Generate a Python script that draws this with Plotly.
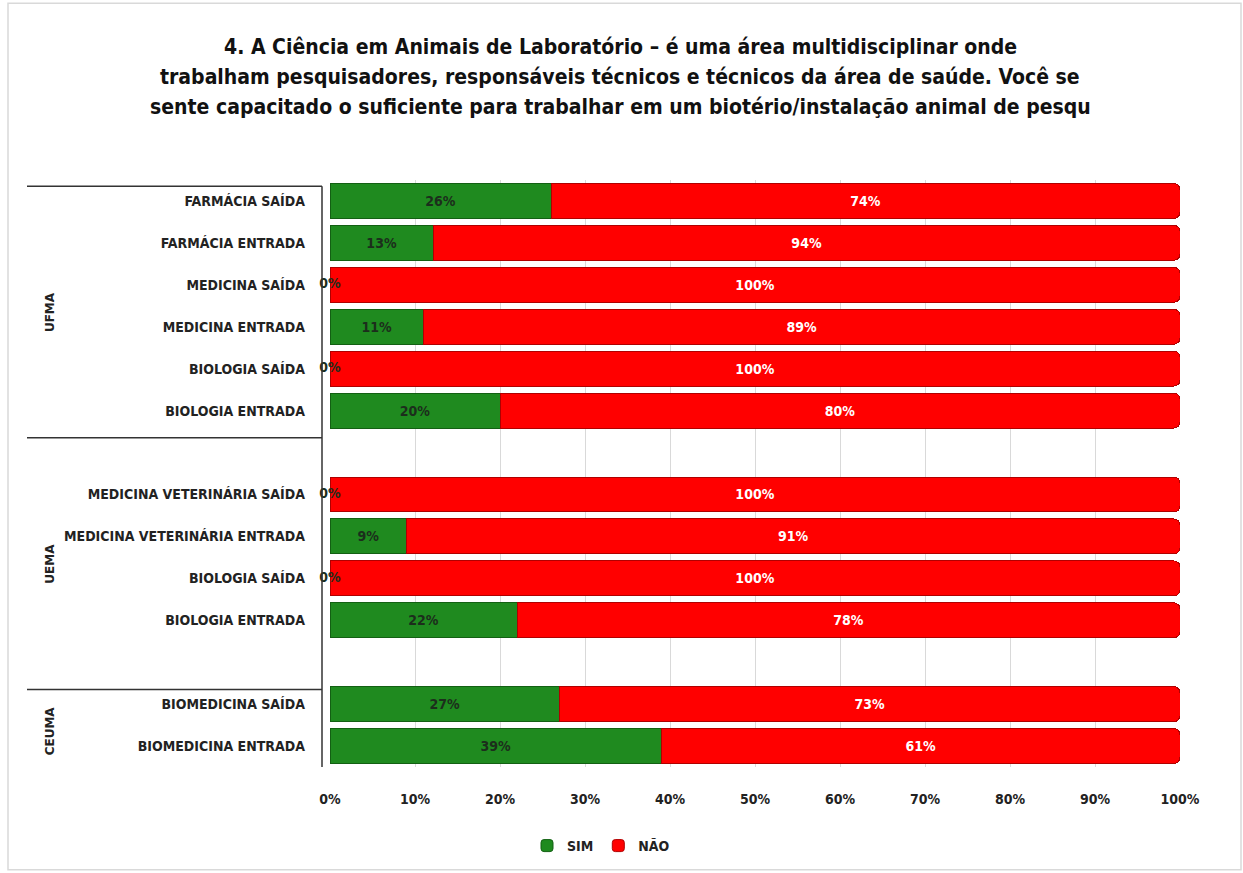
import plotly.graph_objects as go

# ---- data ----
groups = ["UFMA", "UEMA", "CEUMA"]
ufma_cats = ["FARMÁCIA SAÍDA", "FARMÁCIA ENTRADA", "MEDICINA SAÍDA",
             "MEDICINA ENTRADA", "BIOLOGIA SAÍDA", "BIOLOGIA ENTRADA"]
ufma_sim = [26, 13, 0, 11, 0, 20]
ufma_nao = [74, 94, 100, 89, 100, 80]

uema_cats = ["MEDICINA VETERINÁRIA SAÍDA", "MEDICINA VETERINÁRIA ENTRADA",
             "BIOLOGIA SAÍDA", "BIOLOGIA ENTRADA"]
uema_sim = [0, 9, 0, 22]
uema_nao = [100, 91, 100, 78]

ceuma_cats = ["BIOMEDICINA SAÍDA", "BIOMEDICINA ENTRADA"]
ceuma_sim = [27, 39]
ceuma_nao = [73, 61]

x_ticks = [0, 10, 20, 30, 40, 50, 60, 70, 80, 90, 100]
series_names = ["SIM", "NÃO"]

title_lines = ["4. A Ciência em Animais de Laboratório – é uma área multidisciplinar onde",
               "trabalham pesquisadores, responsáveis técnicos e técnicos da área de saúde. Você se",
               "sente capacitado o suficiente para trabalhar em um biotério/instalação animal de pesqu"]

# ---- build slot order (with spacer slots between groups) ----
group_data = [(groups[0], ufma_cats, ufma_sim, ufma_nao),
              (groups[1], uema_cats, uema_sim, uema_nao),
              (groups[2], ceuma_cats, ceuma_sim, ceuma_nao)]

slot_keys = []
slot_text = []
keys, sims, naos = [], [], []
group_spans = []
for gi, (g, cats, s, n) in enumerate(group_data):
    start = len(slot_keys)
    if gi == 1:
        slot_keys.append("gap_a"); slot_text.append("")
    for c, sv, nv in zip(cats, s, n):
        k = g + "|" + c
        slot_keys.append(k); slot_text.append(c)
        keys.append(k); sims.append(sv); naos.append(nv)
    if gi == 1:
        slot_keys.append("gap_b"); slot_text.append("")
    group_spans.append((g, start, len(slot_keys) - 1))

FONT = "DejaVu Sans Condensed, Liberation Sans Narrow, sans-serif"
GREEN = "#1f8a1f"
RED = "#ff0000"

fig = go.Figure()
fig.add_trace(go.Bar(
    y=keys, x=sims, name=series_names[0], orientation="h",
    marker=dict(color=GREEN, line=dict(color="#136013", width=1), cornerradius=6),
    text=[f"{v}%" if v > 0 else "" for v in sims], textposition="inside",
    insidetextanchor="middle",
    textfont=dict(color="#1c2e1c", size=14, family=FONT, weight="bold"),
    constraintext="none",
))
fig.add_trace(go.Bar(
    y=keys, x=naos, name=series_names[1], orientation="h",
    marker=dict(color=RED, line=dict(color="#b00000", width=1), cornerradius=6),
    text=[f"{v}%" for v in naos], textposition="inside", insidetextanchor="middle",
    textfont=dict(color="white", size=14, family=FONT, weight="bold"),
    constraintext="none",
))
# labels for zero-valued SIM segments (drawn at their value on the axis)
zero_keys = [k for k, v in zip(keys, sims) if v == 0]
zero_vals = [v for v in sims if v == 0]
fig.add_trace(go.Scatter(
    y=zero_keys, x=zero_vals, mode="text", text=[f"{v}%" for v in zero_vals],
    textposition="middle center", showlegend=False, hoverinfo="skip",
    textfont=dict(color="#1c2e1c", size=14, family=FONT, weight="bold"),
    cliponaxis=False,
))

shift = 0.15
shapes = []
# frame
shapes.append(dict(type="rect", xref="paper", yref="paper",
                   x0=(8 - 330) / 850, x1=(1241 - 330) / 850,
                   y0=(768 - 871) / 588, y1=(768 - 3) / 588,
                   line=dict(color="#d9d9d9", width=1.5), layer="below"))
# vertical category axis line
xl = (322 - 330) / 850
shapes.append(dict(type="line", xref="paper", yref="y",
                   x0=xl, x1=xl, y0=-0.5 + shift, y1=len(slot_keys) - 0.5 + shift,
                   line=dict(color="#333333", width=1.5)))
# group divider lines
bounds = [-0.5] + [e + 0.5 for (_, _, e) in group_spans]
for b in bounds:
    shapes.append(dict(type="line", xref="paper", yref="y",
                       x0=(27 - 330) / 850, x1=xl, y0=b + shift, y1=b + shift,
                       line=dict(color="#333333", width=1.5)))

annotations = []
for g, s, e in group_spans:
    annotations.append(dict(xref="paper", yref="y", x=(41 - 330) / 850,
                            y=(s + e) / 2 + shift, text=g, showarrow=False,
                            textangle=-90,
                            font=dict(family="DejaVu Sans", size=12, color="#222", weight="bold")))
for i, line in enumerate(title_lines):
    annotations.append(dict(xref="paper", yref="paper", x=(620 - 330) / 850,
                            y=(768 - (47 + 30 * i)) / 588, text=line, showarrow=False,
                            xanchor="center", yanchor="middle",
                            font=dict(family=FONT, size=21, color="#111111", weight="bold")))

fig.update_layout(
    width=1243, height=873,
    margin=dict(l=330, r=63, t=180, b=105),
    paper_bgcolor="white", plot_bgcolor="white",
    barmode="stack", barnorm="percent", bargap=0.17,
    font=dict(family=FONT, color="#222222"),
    xaxis=dict(range=[0, 100], tickvals=x_ticks, ticktext=[f"{t}%" for t in x_ticks],
               showgrid=True, gridcolor="#d9d9d9", gridwidth=1, zeroline=False,
               showline=False, ticks="", ticklabelstandoff=22,
               tickfont=dict(family=FONT, size=14, color="#222", weight="bold")),
    yaxis=dict(type="category", categoryorder="array", categoryarray=slot_keys,
               tickmode="array", tickvals=slot_keys, ticktext=slot_text,
               range=[len(slot_keys) - 0.5, -0.5], showgrid=False, zeroline=False,
               showline=False, ticks="", ticklabelstandoff=24,
               tickfont=dict(family=FONT, size=14, color="#222", weight="bold")),
    legend=dict(orientation="h", x=(601 - 330) / 850, y=(768 - 846) / 588,
                xanchor="center", yanchor="middle",
                font=dict(family=FONT, size=14, color="#222", weight="bold"),
                itemwidth=30, traceorder="normal"),
    shapes=shapes, annotations=annotations,
    showlegend=True,
)

fig.write_html("out.html")
